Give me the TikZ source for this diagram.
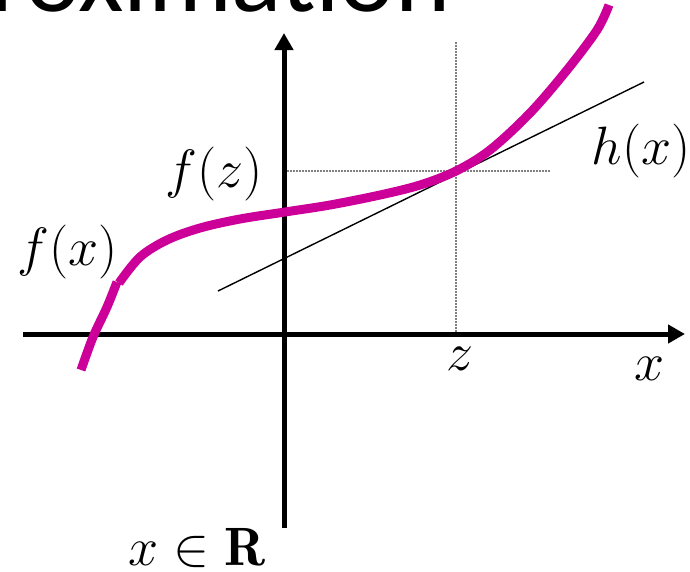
\RequirePackage{fix-cm}
\documentclass[tikz,border=0pt]{standalone}
\usepackage{fontspec}
\newfontfamily\titlefont{Carlito}
\usetikzlibrary{arrows.meta}
\definecolor{curvemag}{RGB}{204,0,153}
\tikzset{
  axis/.style={line width=5pt,-{Triangle[length=17pt,width=18pt]}},
  fcurve/.style={line width=9pt,curvemag},
  tangent/.style={line width=1.4pt,black},
  guide/.style={line width=1.2pt,gray,dash pattern=on 1.5pt off 1.5pt},
  mlabel/.style={inner sep=0pt,anchor=base,font=\fontsize{54}{60}\selectfont}
}
\begin{document}
\begin{tikzpicture}[x=1pt,y=-1pt]
\useasboundingbox (0,0) rectangle (690,571);
% title fragment
\node[anchor=base west,inner sep=0pt,font=\titlefont\fontsize{105}{112}\selectfont] (title) at (-10,11) {roximation};
% axis coordinates
\coordinate (xl) at (23,334);
\coordinate (xr) at (685,334);
\coordinate (yb) at (284,528);
\coordinate (yt) at (284,33);
\coordinate (zt) at (456,42);
\coordinate (zb) at (456,334);
\coordinate (fl) at (284,171);
\coordinate (fr) at (550,171);
\coordinate (tl) at (218,291);
\coordinate (tr) at (644,82);
% guides
\draw[guide] (zt) -- (zb);
\draw[guide] (fl) -- (fr);
% axes
\draw[axis] (xl) -- (xr);
\draw[axis] (yb) -- (yt);
% tangent
\draw[tangent] (tl) -- (tr);
% curve
\draw[fcurve] plot[smooth,tension=0.5] coordinates {(81,370) (93,337) (107,307) (117,282)};
\draw[fcurve] plot[smooth,tension=0.55] coordinates {(119,283) (140,257) (167,240) (200,228) (240,219) (285,212) (330,205) (380,195) (420,185) (456,171) (490,150) (530,113) (567,70) (597,30) (609,5)};
% labels
\node[mlabel] (fz) at (214,187) {$f(z)$};
\node[mlabel] (fx) at (68,265) {$f(x)$};
\node[mlabel] (hx) at (641,164) {$h(x)$};
\node[mlabel] (zl) at (460,370) {$z$};
\node[mlabel] (xlab) at (650,380) {$x$};
\node[mlabel] (xr2) at (197,565) {$x\in\mathbf{R}$};
\end{tikzpicture}
\end{document}
